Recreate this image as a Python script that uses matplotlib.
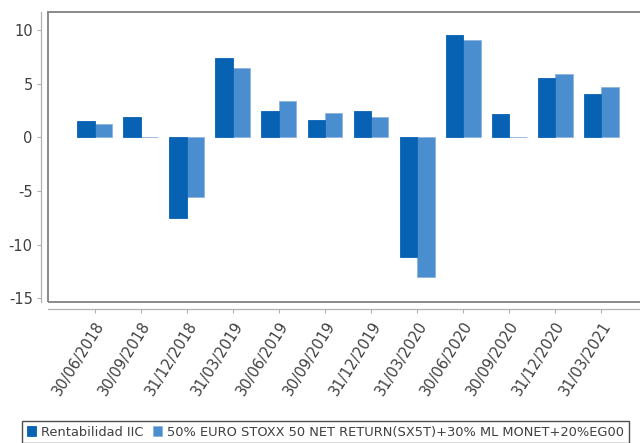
import matplotlib.pyplot as plt
import matplotlib.transforms as mtrans
import numpy as np
from matplotlib.patches import Rectangle

fechas = ["30/06/2018", "30/09/2018", "31/12/2018", "31/03/2019",
          "30/06/2019", "30/09/2019", "31/12/2019", "31/03/2020",
          "30/06/2020", "30/09/2020", "31/12/2020", "31/03/2021"]
rent_iic = [1.55, 1.86, -7.49, 7.39, 2.48, 1.61, 2.45, -11.13, 9.53, 2.14, 5.55, 4.0]
benchmark = [1.21, 0.0, -5.53, 6.43, 3.41, 2.24, 1.92, -12.99, 9.07, 0.0, 5.9, 4.66]
nombres = ["Rentabilidad IIC",
           "50% EURO STOXX 50 NET RETURN(SX5T)+30% ML MONET+20%EG00"]
yticks = [-15, -10, -5, 0, 5, 10]

c_dark = "#0862b4"
c_light = "#4b8ed0"

plt.rcParams["axes.unicode_minus"] = False

fig = plt.figure(figsize=(6.4, 4.43), dpi=100)
ax = fig.add_axes([48/640, 1-302/443, 600/640, 290/443])

x = np.arange(len(fechas))
w = 0.38
ax.bar(x + w/2, benchmark, w, color=c_light, edgecolor="#8fb4dc", linewidth=0.6,
       label=nombres[1], zorder=2)
ax.bar(x - w/2, rent_iic, w, color=c_dark, edgecolor=c_dark, linewidth=0.6,
       label=nombres[0], zorder=3)

ax.set_xlim(-1.02, 12.02)
ax.set_ylim(-15.35, 11.68)

# marco del area de dibujo
ax.add_patch(Rectangle((0, 0), 1, 1, transform=ax.transAxes, fill=False,
                       edgecolor="#8a8a8a", linewidth=1.4, clip_on=False))
for s in ["top", "right"]:
    ax.spines[s].set_visible(False)
for s in ["left", "bottom"]:
    ax.spines[s].set_position(("outward", 5))
    ax.spines[s].set_color("#b0b0b0")
    ax.spines[s].set_linewidth(0.9)

ax.set_yticks(yticks)
ax.set_xticks(x)
ax.set_xticklabels(fechas, rotation=58, ha="right", va="top",
                   rotation_mode="anchor")
shift = mtrans.ScaledTranslation(7/100, 0, fig.dpi_scale_trans)
for lab in ax.get_xticklabels():
    lab.set_transform(lab.get_transform() + shift)
ax.tick_params(axis="both", colors="#b0b0b0", length=3, width=0.8,
               labelcolor="#404040", labelsize=10.5)
ax.tick_params(axis="y", pad=3)
ax.tick_params(axis="x", pad=4)

h, l = ax.get_legend_handles_labels()
leg = fig.legend(h[::-1], l[::-1], loc="upper left",
                 bbox_to_anchor=(22/640, 1-421/443),
                 ncol=2, frameon=True, fancybox=False, fontsize=9.4,
                 handlelength=0.7, handleheight=0.7, handletextpad=0.4,
                 columnspacing=0.7, borderpad=0.35, borderaxespad=0)
leg.get_frame().set_edgecolor("#222222")
leg.get_frame().set_linewidth(1.0)
for t in leg.get_texts():
    t.set_color("#404040")

fig.savefig("out.png", dpi=100)
